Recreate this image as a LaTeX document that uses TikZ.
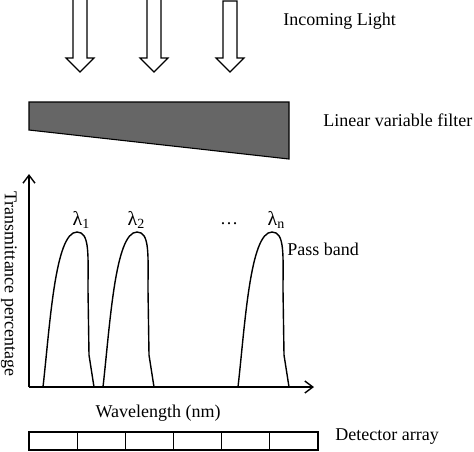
\documentclass[tikz,border=0pt]{standalone}
\usepackage{fontspec}
\setmainfont{Liberation Serif}
\usepackage{tikz}
\usetikzlibrary{arrows.meta}
\usetikzlibrary{calc}
\usetikzlibrary{positioning}
\definecolor{filtergray}{RGB}{102,102,102}
\newcommand{\wl}[1]{{\fontsize{10}{11}\selectfont λ}\raisebox{-0.45ex}{\fontsize{7}{8}\selectfont #1}}

\begin{document}
\begin{tikzpicture}[x=0.5pt, y=-0.5pt, >={Straight Barb[length=4pt,width=6pt]}]
    \fontsize{9}{11}\selectfont
    \useasboundingbox (0,0) rectangle (474,451);

    % TikZ styles for drawing %%%%%%%%%%%%%%%%%%%%%%%%%%%%%%%%%%%%%%%%%%%%%%%%%%%%%%
    \tikzstyle{light} = [draw,fill=white,line width=0.55pt,line join=miter]
    \tikzstyle{filter} = [draw,fill=filtergray,line width=0.55pt]
    \tikzstyle{band} = [line width=0.7pt,line join=round]
    \tikzstyle{axis} = [->,line width=0.7pt]
    \tikzstyle{cell} = [draw,line width=0.55pt]
    \tikzstyle{label} = [inner sep=0pt]

    % Incoming light (hollow arrows) %%%%%%%%%%%%%%%%%%%%%%%%%%%%%%%%%%%%%%%%%%%%%%%%%%
    \foreach \cx/\top in {80/-3, 154/-3, 230/1} {
      \draw[light] (\cx-7,\top) -- (\cx+7,\top) -- (\cx+7,58) -- (\cx+14,58)
                   -- (\cx,72) -- (\cx-14,58) -- (\cx-7,58) -- cycle;
    }
    \node[label, anchor=west] (light) at (283,21) {Incoming Light};

    % Linear variable filter %%%%%%%%%%%%%%%%%%%%%%%%%%%%%%%%%%%%%%%%%%%%%%%%%%%%%%%%%%
    \draw[filter] (29,102) -- (289,102) -- (289,159) -- (29,130) -- cycle;
    \node[label, anchor=west] (lvf) at (323,120) {Linear variable filter};

    % Axes %%%%%%%%%%%%%%%%%%%%%%%%%%%%%%%%%%%%%%%%%%%%%%%%%%%%%%%%%%%%%%%%%%%%%%%%%%%%
    \coordinate (origin) at (29,387);
    \coordinate (ytop) at (29,174);
    \coordinate (xend) at (314,387);
    \draw[axis] (origin) -- (ytop);
    \draw[axis] (origin) -- (xend);
    \node[label, rotate=-90] (ylab) at (9,284) {Transmittance percentage};
    \node[label] (xlab) at (158,413) {Wavelength (nm)};

    % Pass bands %%%%%%%%%%%%%%%%%%%%%%%%%%%%%%%%%%%%%%%%%%%%%%%%%%%%%%%%%%%%%%%%%%%%%%
    \foreach \dx in {0, 60, 195} {
      \draw[band, xshift=\dx*0.5pt] (43,387) .. controls (50,325) and (55,232) .. (77,232)
           .. controls (90,232) and (88,255) .. (88,290) -- (89,355) -- (94,387);
    }
    \node[label] (l1) at (81,220) {\wl{1}};
    \node[label] (l2) at (136,220) {\wl{2}};
    \node[label] (dots) at (229,224) {\dots};
    \node[label] (ln) at (276,220) {\wl{n}};
    \node[label, anchor=west] (pass) at (287,249) {Pass band};

    % Detector array %%%%%%%%%%%%%%%%%%%%%%%%%%%%%%%%%%%%%%%%%%%%%%%%%%%%%%%%%%%%%%%%%%
    \foreach \i in {0,...,5} {
      \draw[cell] (29+\i*48.17,432) rectangle (29+\i*48.17+48.17,450);
    }
    \node[label, anchor=west] (det) at (335,437) {Detector array};

\end{tikzpicture}
\end{document}
